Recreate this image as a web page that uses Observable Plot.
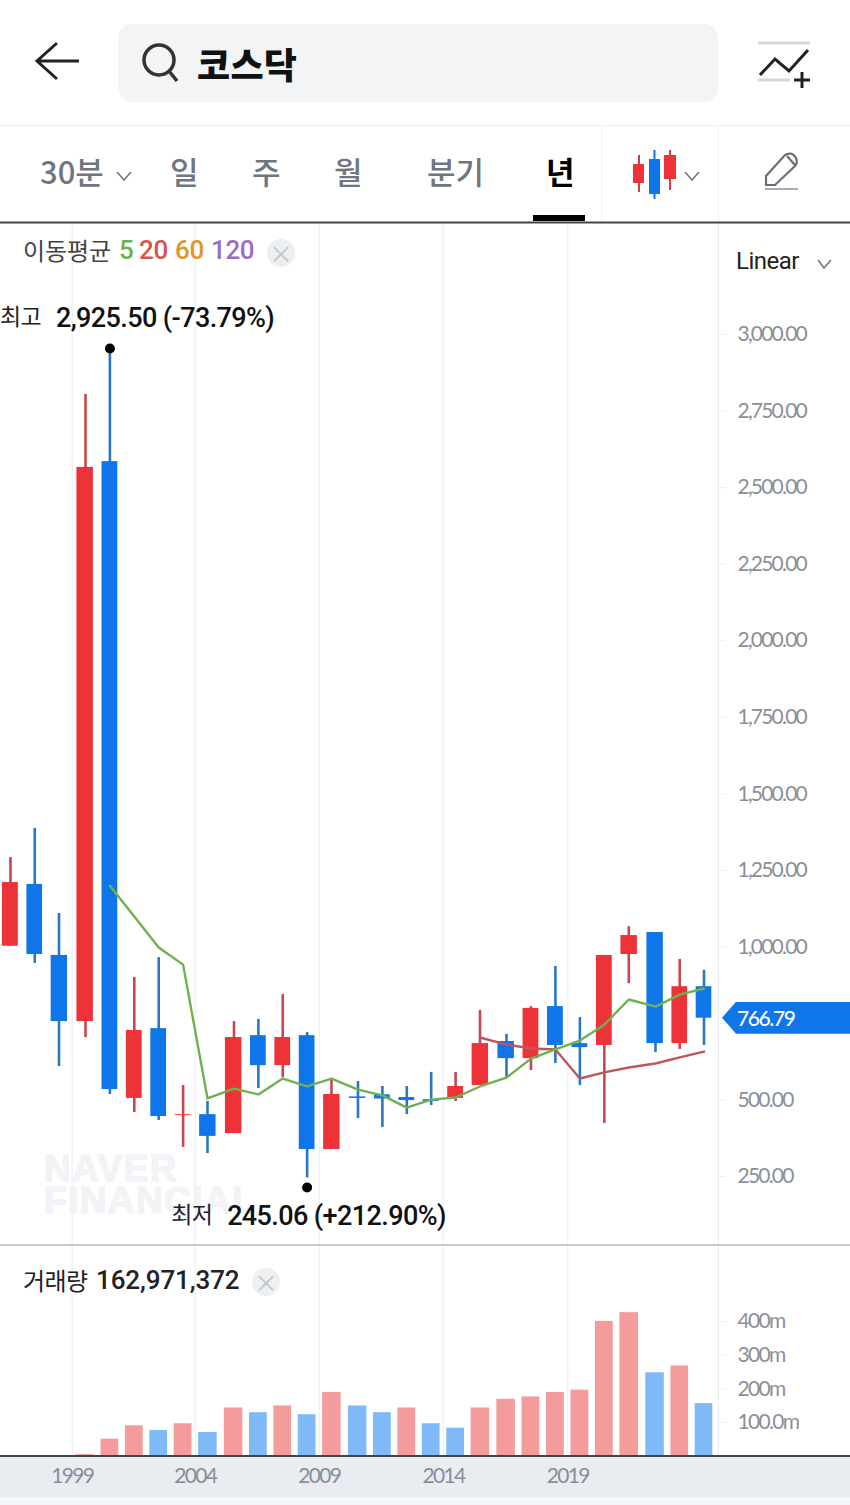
<!DOCTYPE html>
<html><head><meta charset="utf-8">
<script src="https://cdn.jsdelivr.net/npm/d3@7"></script>
<script src="https://cdn.jsdelivr.net/npm/@observablehq/plot@0.6"></script>
<style>
html,body{margin:0;padding:0;background:#fff;width:850px;height:1505px;overflow:hidden;position:relative;font-family:"Noto Sans CJK KR",sans-serif;}
.a{position:absolute;white-space:nowrap;line-height:1;}
.tab{color:#6f7680;font-size:31px;font-weight:500;top:155px;}
svg.chrome{position:absolute;left:0;top:0;}
#price,#vol{position:absolute;left:0;}
#price{top:222px;}#vol{top:1245px;}
#price [aria-label="y-axis tick label"] text{letter-spacing:-1.8px;}
#price [aria-label="text"] text{letter-spacing:-.6px;}
#vol [aria-label="y-axis tick label"] text{letter-spacing:-1.7px;}
#vol [aria-label="x-axis tick label"] text{letter-spacing:-1.7px;}
.num{font-family:Roboto,sans-serif;font-weight:500;font-size:26px;letter-spacing:-.4px;position:absolute;top:-1px;}
</style></head><body>
<div class="a" style="left:0;top:1457px;width:850px;height:40px;background:#e9ecf1"></div>
<div class="a" style="left:0;top:1497px;width:850px;height:8px;background:#f3f5f8"></div>
<div class="a" style="left:118px;top:24px;width:600px;height:78px;border-radius:14px;background:#f3f4f6"></div>
<div class="a" style="left:44px;top:1153px;color:#f1f3f6;font:700 37px/32px 'Liberation Sans',sans-serif;letter-spacing:1.4px;-webkit-text-stroke:1.5px #f1f3f6">NAVER<br>FINANCIAL</div>
<div id="price"></div><div id="vol"></div>
<svg class="chrome" width="850" height="224" fill="none">
<path d="M79 61H38M57 43L37 61L57 79" stroke="#222" stroke-width="3"/>
<circle cx="159" cy="60" r="15" stroke="#333" stroke-width="3.5"/><path d="M169 71L177 81" stroke="#333" stroke-width="3.5"/>
<path d="M758 43H810M758 80H790" stroke="#d5d7db" stroke-width="3"/>
<path d="M760 75L775 59L789 71L808 50" stroke="#222" stroke-width="3"/>
<path d="M802 72V88M794 80H810" stroke="#222" stroke-width="3"/>
<path d="M0 125.5H850" stroke="#f1f2f4" stroke-width="1.5"/>
<path d="M601.5 126V222M718.5 126V222" stroke="#f0f1f3" stroke-width="1"/>
<path d="M117 172L124 180L131 172M685 172L692 180L699 172" stroke="#777" stroke-width="1.6"/>
<path d="M639 155V192M670 150V190" stroke="#d43c3f" stroke-width="2"/><path d="M654.5 150V199" stroke="#1373e0" stroke-width="2"/>
<rect x="633" y="164" width="11" height="19" fill="#ee3338"/><rect x="649" y="159" width="11" height="35" fill="#0f76ea"/><rect x="664" y="155" width="12" height="24" fill="#ee3338"/>
<path d="M766 185V176L785 155Q792 151 796 158Q798 163 795 166L775 185ZM787 156L795 165" stroke="#6a6f76" stroke-width="2.2"/><path d="M765 189H798" stroke="#a8acb2" stroke-width="2.2"/>
<rect x="533" y="215" width="52" height="6" fill="#000"/>
<path d="M0 222.5H850" stroke="#444" stroke-width="2"/>
</svg>
<div class="a" style="left:0;top:1244px;width:850px;height:2px;background:#c9cbce"></div>
<div class="a" style="left:0;top:1455px;width:850px;height:2px;background:#444"></div>
<div class="a" style="left:197px;top:45px;font-size:36px;font-weight:900;color:#111;letter-spacing:.3px">코스닥</div>
<div class="a tab" style="left:40px">30분</div>
<div class="a tab" style="left:170px">일</div>
<div class="a tab" style="left:252px">주</div>
<div class="a tab" style="left:334px">월</div>
<div class="a tab" style="left:427px">분기</div>
<div class="a tab" style="left:546px;color:#000;font-weight:700">년</div>
<div class="a" style="left:23px;top:238px;height:26px;font-size:24px;letter-spacing:-.1px;color:#444">이동평균<span class="num" style="left:96px;color:#6cb24a">5</span><span class="num" style="left:116px;color:#d9534f">20</span><span class="num" style="left:152px;color:#e0952e">60</span><span class="num" style="left:188px;color:#9c6cc4">120</span></div>
<div class="a" style="left:267px;top:239px;width:28px;height:28px;border-radius:14px;background:#eeeff1;color:#c3c6ca;font-size:24px;line-height:28px;text-align:center">×</div>
<div class="a" style="left:736px;top:249px;font-size:24px;letter-spacing:-.5px;color:#222;font-family:Roboto,sans-serif">Linear</div>
<svg class="chrome" style="left:816px;top:258px" width="18" height="12" fill="none"><path d="M2 2L8 10L15 2" stroke="#777" stroke-width="1.6"/></svg>
<div class="a" style="left:23px;top:1268px;height:26px;font-size:24px;letter-spacing:-.6px;color:#222">거래량<span class="num" style="left:73px;color:#222;letter-spacing:-.1px;font-size:26px">162,971,372</span></div>
<div class="a" style="left:252px;top:1268px;width:28px;height:28px;border-radius:14px;background:#eeeff1;color:#c3c6ca;font-size:24px;line-height:28px;text-align:center">×</div>
<div class="a" id="tag" style="left:722px;width:128px;height:32px;background:#0f76ea;clip-path:polygon(0 50%,14px 0,100% 0,100% 100%,14px 100%);color:#fff;font:500 21px/32px Lato,sans-serif;letter-spacing:-1.4px;text-indent:15px">766.79</div>
<script>
const years=d3.range(1996,2025);
const open =[1002,1204,972,756,2585,505,733,449,452,390,710,612,710,338,510,517,508,501,505,547,691,635,805,684,678,975,1047,684,870];
const close=[1210,975,756,2566,534,727,446,452,381,704,612,704,338,518,505,503,498,495,544,684,635,799,678,671,972,1037,684,870,767];
const high =[1292,1387,1109,2804,2940,900,965,547,495,756,763,844,720,570,560,544,544,590,590,792,714,805,936,769,972,1066,1047,959,923];
const low  =[1002,946,609,704,518,459,433,345,325,390,537,573,245.06,338,439,410,452,482,495,547,573,596,619,547,423,880,655,665,678];
const ma5=[1200,1099,998,942,505,537,518,570,544,570,534,515,475,501,508,544,573,635,665,694,746,828,805,844,864];
const ma5Years=d3.range(2000,2025);
const ma20=[704,681,668,665,570,590,606,619,639,658];
const ma20Years=d3.range(2015,2025);
const volYears=d3.range(1999,2025);
const volume=[4,50,90,76,96,70,143,129,149,123,189,149,129,143,96,83,143,169,176,189,196,401,427,248,268,156];
const volRising=[1,1,1,0,1,0,1,0,1,0,1,0,0,1,0,0,1,1,1,1,1,1,1,0,1,0];
const gridYears=[1999,2004,2009,2014,2019];
const priceTicks=[250,500,750,1000,1250,1500,1750,2000,2250,2500,2750,3000];
const priceTickLabels=["250.00","500.00","","1,000.00","1,250.00","1,500.00","1,750.00","2,000.00","2,250.00","2,500.00","2,750.00","3,000.00"];
const volTicks=[100,200,300,400];
const volTickLabels=["100.0m","200m","300m","400m"];
const highMark=[{year:2000,price:2940,tag:"최고",val:"2,925.50 (-73.79%)"}];
const lowMark=[{year:2008,price:245.06,tag:"최저",val:"245.06 (+212.90%)"}];

const RED="#ee3338",BLUE="#0f76ea",WRED="#c8474c",WBLUE="#2877c4",GREY="#8a9099",GRID="#eff2f6";
const candles=years.map((year,i)=>({year,open:open[i],close:close[i],high:high[i],low:low[i],up:close[i]>open[i]}));
// the app's date axis is slightly uneven: a piecewise scale reproduces it
const xScale={type:"linear",domain:[1995.6,1996,1998,1999,2004,2005,2009,2010,2015,2016,2021,2022,2024,2024.6],
              range:[0,10,58.5,85,207,233.5,331,357.5,479.5,506,628.3,655,703.5,718]};
const rows5=ma5Years.map((year,i)=>({year,v:ma5[i]}));
const rows20=ma20Years.map((year,i)=>({year,v:ma20[i]}));
const vols=volYears.map((year,i)=>({year,v:volume[i],up:volRising[i]===1}));
const roboto={fontFamily:"Roboto,sans-serif",fontWeight:500,fontSize:27,textAnchor:"start",fill:"#111"};
const korean={fontFamily:"'Noto Sans CJK KR',sans-serif",fontSize:23,textAnchor:"start",fill:"#222"};
const lato={fontFamily:"Lato,sans-serif"};

const price=Plot.plot({width:850,height:1023,marginLeft:0,marginTop:0,marginBottom:0,marginRight:132,
 style:{background:"transparent",overflow:"visible"},
 x:{...xScale,axis:null},
 y:{domain:[24.6,3366]},
 marks:[
  Plot.ruleX(gridYears,{x:d=>d-.5,stroke:GRID,strokeWidth:1.5}),
  Plot.ruleX([2024.6],{stroke:"#e9ebef",strokeWidth:1}),
  Plot.axisY({anchor:"right",label:null,ticks:priceTicks,tickFormat:d=>priceTickLabels[priceTicks.indexOf(d)],tickSize:7,tickPadding:12,stroke:"#eceef1",fill:GREY,fontSize:21,...lato}),
  Plot.ruleX(candles,{x:"year",y1:"low",y2:"high",stroke:d=>d.up?WRED:WBLUE,strokeWidth:2.6}),
  Plot.rect(candles,{x1:d=>d.year-.323,x2:d=>d.year+.323,y1:"open",y2:"close",fill:d=>d.up?RED:BLUE}),
  Plot.line(rows20,{x:"year",y:"v",stroke:"#c0565a",strokeWidth:2.4}),
  Plot.line(rows5,{x:"year",y:"v",stroke:"#6fb14e",strokeWidth:2.4}),
  Plot.dot(highMark,{x:"year",y:"price",r:5,fill:"#000",stroke:null,dy:-4.5}),
  Plot.dot(lowMark,{x:"year",y:"price",r:5,fill:"#000",stroke:null,dy:9.5}),
  Plot.text(highMark,{x:"year",y:"price",text:"tag",dx:-110,dy:-35,...korean}),
  Plot.text(highMark,{x:"year",y:"price",text:"val",dx:-54,dy:-35,...roboto}),
  Plot.text(lowMark,{x:"year",y:"price",text:"tag",dx:-136,dy:38,...korean}),
  Plot.text(lowMark,{x:"year",y:"price",text:"val",dx:-80,dy:38,...roboto}),
 ]});
document.getElementById("price").append(price);
document.getElementById("tag").style.top=(222+price.scale("y").apply(766.79)-16)+"px";

const vol=Plot.plot({width:850,height:252,marginLeft:0,marginTop:0,marginBottom:41,marginRight:132,
 style:{background:"transparent",overflow:"visible"},
 x:{...xScale,axis:null},
 y:{domain:[-1.5,627]},
 marks:[
  Plot.ruleX(gridYears,{x:d=>d-.5,stroke:GRID,strokeWidth:1.5}),
  Plot.ruleX([2024.6],{stroke:"#e9ebef",strokeWidth:1}),
  Plot.axisY({anchor:"right",label:null,ticks:volTicks,tickFormat:d=>volTickLabels[volTicks.indexOf(d)],tickSize:7,tickPadding:12,stroke:"#eceef1",fill:GREY,fontSize:21,...lato}),
  Plot.axisX({anchor:"bottom",label:null,ticks:gridYears.map(d=>d-.5),tickFormat:d=>String(d+.5),tickSize:0,tickPadding:12,fill:"#878e9a",fontSize:21,...lato}),
  Plot.rect(vols,{x1:d=>d.year-.364,x2:d=>d.year+.364,y1:0,y2:"v",fill:d=>d.up?"#f49b9c":"#7fbaf7"}),
 ]});
document.getElementById("vol").append(vol);
</script>
</body></html>
